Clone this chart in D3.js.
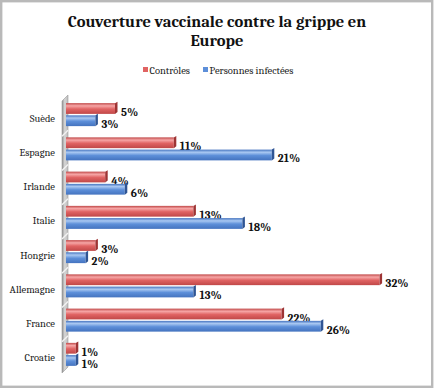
<!DOCTYPE html>
<html>
<head>
<meta charset="utf-8">
<script src="https://cdn.jsdelivr.net/npm/d3@7"></script>
<style>
  body { margin: 0; background: #fff; }
  svg { display: block; }
</style>
</head>
<body>
<svg id="chart" width="434" height="389"></svg>
<script>
// data, top to bottom as shown
const countries = ['Suède', 'Espagne', 'Irlande', 'Italie', 'Hongrie', 'Allemagne', 'France', 'Croatie'];
const controles = [5, 11, 4, 13, 3, 32, 22, 1];
const infectees = [3, 21, 6, 18, 2, 13, 26, 1];
const seriesNames = ['Contrôles', 'Personnes infectées'];

const svg = d3.select('#chart');
const serif = "Cambria, 'DejaVu Serif', serif";

// frame
svg.append('rect')
    .attr('x', 1.2).attr('y', 1.2).attr('width', 431).attr('height', 385.6)
    .attr('fill', '#fff').attr('stroke', '#b9b9b9').attr('stroke-width', 2.4);

// title
const title = svg.append('text')
    .attr('text-anchor', 'middle')
    .attr('font-family', serif).attr('font-weight', 'bold').attr('font-size', 16.5)
    .attr('fill', '#111');
title.append('tspan').attr('x', 217).attr('y', 27).text('Couverture vaccinale contre la grippe en');
title.append('tspan').attr('x', 217).attr('y', 46).text('Europe');

// gradients
const defs = svg.append('defs');
const palette = {
    'Contrôles': { hi: '#f6a6a6', mid: '#e06363', lo: '#c04848', cap: '#9e3434' },
    'Personnes infectées': { hi: '#a9c8f2', mid: '#5d8fd9', lo: '#4473bf', cap: '#2f5594' }
};
seriesNames.forEach((s, i) => {
    const g = defs.append('linearGradient').attr('id', 'g' + i)
        .attr('x1', 0).attr('y1', 0).attr('x2', 0).attr('y2', 1);
    g.append('stop').attr('offset', '0%').attr('stop-color', palette[s].lo);
    g.append('stop').attr('offset', '25%').attr('stop-color', palette[s].hi);
    g.append('stop').attr('offset', '55%').attr('stop-color', palette[s].mid);
    g.append('stop').attr('offset', '100%').attr('stop-color', palette[s].lo);
});
const wallGrad = defs.append('linearGradient').attr('id', 'wall')
    .attr('x1', 0).attr('y1', 0).attr('x2', 1).attr('y2', 0);
wallGrad.append('stop').attr('offset', '0%').attr('stop-color', '#8e8e8e');
wallGrad.append('stop').attr('offset', '45%').attr('stop-color', '#d6d6d6');
wallGrad.append('stop').attr('offset', '100%').attr('stop-color', '#bdbdbd');

// legend
const legend = svg.append('g').attr('font-family', serif).attr('font-size', 10.5).attr('fill', '#222');
const legendX = [143, 203];
seriesNames.forEach((s, i) => {
    legend.append('rect').attr('x', legendX[i]).attr('y', 67).attr('width', 5).attr('height', 5)
        .attr('fill', palette[s].mid);
    legend.append('text').attr('x', legendX[i] + 6.5).attr('y', 73.5).text(s);
});

// scales
const x = d3.scaleLinear().domain([0, 35]).range([66, 409]);
const y = d3.scaleBand().domain(countries).range([101, 375]);
const inner = d3.scaleBand().domain(seriesNames).range([-15, 8]).paddingInner(0.12);

// wall (3D category axis)
const depth = 6;
svg.append('path')
    .attr('d', `M62,${y.range()[0]} L${62 + depth},${y.range()[0] - depth} L${62 + depth},${y.range()[1] - depth - 2} L62,${y.range()[1] - 2} Z`)
    .attr('fill', 'url(#wall)').attr('stroke', '#9a9a9a').attr('stroke-width', 0.6);
// slanted tick marks between categories
countries.forEach((c, i) => {
    const yy = y(c) + y.bandwidth();
    if (i < countries.length - 1) {
        svg.append('line')
            .attr('x1', 62).attr('y1', yy + 1).attr('x2', 62 + depth).attr('y2', yy - depth + 1)
            .attr('stroke', '#f2f2f2').attr('stroke-width', 1.4);
    }
});

// category labels
svg.append('g').selectAll('text').data(countries).join('text')
    .attr('x', 55).attr('y', d => y(d) + y.bandwidth() / 2 + 3.5)
    .attr('text-anchor', 'end')
    .attr('font-family', serif).attr('font-size', 10.5).attr('fill', '#222')
    .text(d => d);

// bars
const rows = [];
countries.forEach((c, i) => {
    rows.push({ c, s: seriesNames[0], v: controles[i], k: 0 });
    rows.push({ c, s: seriesNames[1], v: infectees[i], k: 1 });
});

const bars = svg.append('g').selectAll('g').data(rows).join('g')
    .attr('transform', d => `translate(0,${y(d.c) + y.bandwidth() / 2 + inner(d.s)})`);

const h = inner.bandwidth();
bars.append('rect')
    .attr('x', x(0)).attr('y', 0)
    .attr('width', d => x(d.v) - x(0)).attr('height', h)
    .attr('fill', d => `url(#g${d.k})`);
// end cap
bars.append('path')
    .attr('d', d => `M${x(d.v)},0 L${x(d.v) + 2.5},-1.5 L${x(d.v) + 2.5},${h - 2} L${x(d.v)},${h} Z`)
    .attr('fill', d => palette[d.s].cap);

// value labels
bars.append('text')
    .attr('x', d => x(d.v) + 6).attr('y', h / 2 + 7.5)
    .attr('font-family', serif).attr('font-weight', 'bold').attr('font-size', 11.5).attr('fill', '#111')
    .text(d => d.v + '%');
</script>
</body>
</html>
